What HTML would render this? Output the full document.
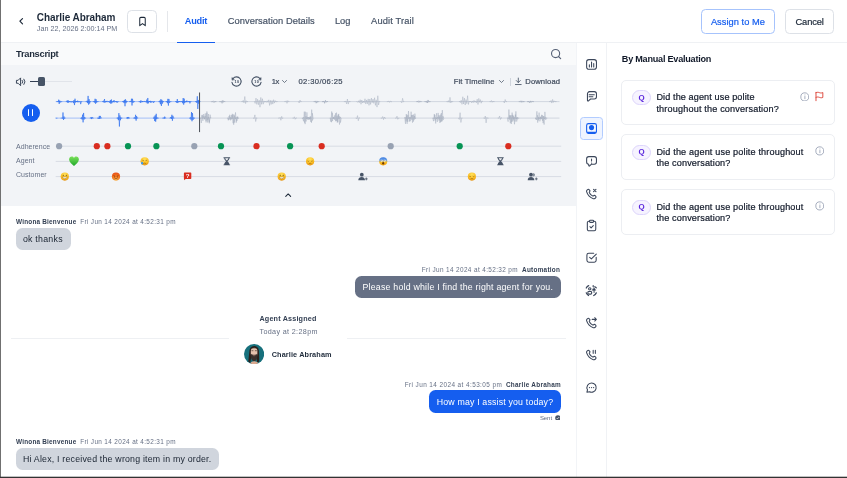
<!DOCTYPE html>
<html lang="en"><head><meta charset="utf-8"><title>Audit – Charlie Abraham</title>
<style>
html,body{margin:0;padding:0}
body{width:847px;height:478px;overflow:hidden;position:relative;background:#fff;font-family:'Liberation Sans', sans-serif;}
.abs{position:absolute}
.t{position:absolute;white-space:pre;line-height:normal}
#frame-l{position:absolute;left:0;top:0;width:1px;height:478px;background:#707070;z-index:9}
#frame-b{position:absolute;left:0;top:476px;width:847px;height:2px;background:linear-gradient(to bottom,rgba(50,50,50,0.3) 0,rgba(50,50,50,0.3) 50%,#333 50%,#333 100%);z-index:9}
header{position:absolute;left:0;top:0;width:847px;height:42px;border-bottom:1px solid #EFF1F4;background:#fff}
.btn{position:absolute;box-sizing:border-box;border-radius:4.5px;background:#fff}
#transcript{position:absolute;left:0;top:43px;width:576.4px;height:435px;overflow:hidden}
#thead{position:absolute;left:0;top:0;width:100%;height:22.2px;background:#F9FAFB}
#player{position:absolute;left:0;top:22.2px;width:100%;height:140.6px;background:#F2F4F7}
#chat{position:absolute;left:0;top:162.8px;width:100%;height:273px;background:#fff}
.bub{position:absolute;box-sizing:border-box;border-radius:6.5px}
#side{position:absolute;left:576.4px;top:43px;width:30.6px;height:435px;border-right:1px solid #F0F2F5;border-left:1px solid #F2F4F7;box-sizing:border-box;background:#fff}
.card{position:absolute;left:621.4px;width:213.5px;height:45.8px;box-sizing:border-box;border:1px solid #ECEEF2;border-radius:5px;background:#fff}
.qb{position:absolute;left:632px;width:19.2px;height:15.4px;box-sizing:border-box;border:1px solid #DDD5FC;border-radius:8px;background:#F6F3FF}
</style></head>
<body>
<div id="frame-l"></div><div id="frame-b"></div>
<header>
<svg class="abs" style="left:17.00px;top:17.30px" width="8.4" height="8.4" viewBox="0 0 24 24" fill="none" stroke="#1D2939" stroke-width="3.4" stroke-linecap="round" stroke-linejoin="round" ><path d="M15.750 4.500L8.250 12l7.500 7.500"/></svg>
<span class="t" style="left:36.80px;top:11.55px;font-size:10.0px;font-weight:700;color:#1D2939;letter-spacing:-0.077px;">Charlie Abraham</span>
<span class="t" style="left:36.80px;top:23.78px;font-size:7.2px;font-weight:400;color:#667085;letter-spacing:0.003px;">Jan 22, 2026 2:00:14 PM</span>
<div class="btn" style="left:127.4px;top:10px;width:29.8px;height:22.8px;border:1px solid #DDE1E7"></div>
<svg class="abs" style="left:136.90px;top:16.10px" width="11" height="11" viewBox="0 0 24 24" fill="none" stroke="#1D2939" stroke-width="2.2" stroke-linecap="round" stroke-linejoin="round" ><path d="M6 5.500A2.500 2.500 0 0 1 8.500 3h7A2.500 2.500 0 0 1 18 5.500V21l-6-4.500L6 21z"/></svg>
<div class="abs" style="left:167.2px;top:11px;width:1px;height:20.5px;background:#e5e7eb"></div>
<nav>
<span class="t" style="left:184.80px;top:15.67px;font-size:9.2px;font-weight:700;color:#155EEF;letter-spacing:-0.237px;">Audit</span>
<span class="t" style="left:227.70px;top:15.58px;font-size:9.3px;font-weight:400;color:#475467;letter-spacing:0.066px;-webkit-text-stroke:0.2px currentColor;">Conversation Details</span>
<span class="t" style="left:335.00px;top:15.58px;font-size:9.3px;font-weight:400;color:#475467;letter-spacing:-0.072px;-webkit-text-stroke:0.2px currentColor;">Log</span>
<span class="t" style="left:371.10px;top:15.58px;font-size:9.3px;font-weight:400;color:#475467;letter-spacing:0.141px;-webkit-text-stroke:0.2px currentColor;">Audit Trail</span>
<div class="abs" style="left:177px;top:41.5px;width:38px;height:1.8px;background:#155EEF;z-index:2"></div>
</nav>
<div class="btn" style="left:700.8px;top:9px;width:74.5px;height:24.7px;border:1px solid #A6C3FC"></div>
<span class="t" style="left:710.90px;top:16.58px;font-size:9.3px;font-weight:400;color:#155EEF;letter-spacing:0.021px;-webkit-text-stroke:0.2px currentColor;">Assign to Me</span>
<div class="btn" style="left:785.1px;top:9px;width:49.3px;height:24.7px;border:1px solid #DDE1E7"></div>
<span class="t" style="left:795.50px;top:16.58px;font-size:9.3px;font-weight:400;color:#1D2939;letter-spacing:-0.109px;-webkit-text-stroke:0.2px currentColor;">Cancel</span>
</header>

<section id="transcript">
<div id="thead"></div>
<div id="player"></div>
<div id="chat"></div>
<div class="abs" style="left:0;top:-43px;width:577px;height:478px">
<span class="t" style="left:16.00px;top:49.18px;font-size:9.3px;font-weight:700;color:#1D2939;letter-spacing:-0.255px;">Transcript</span>
<svg class="abs" style="left:549.60px;top:48.40px" width="12.2" height="12.2" viewBox="0 0 24 24" fill="none" stroke="#566176" stroke-width="2.2" stroke-linecap="round" stroke-linejoin="round" ><circle cx="11" cy="11" r="8"/><path d="M21 21l-4.300-4.300"/></svg>
<!-- player controls -->
<svg class="abs" style="left:15.10px;top:75.90px" width="11.6" height="11.6" viewBox="0 0 24 24" fill="none" stroke="#344054" stroke-width="2" stroke-linecap="round" stroke-linejoin="round" ><path d="M11 4.500L6.500 9H3v6h3.500L11 19.500z"/><path d="M15 9a4.500 4.500 0 0 1 0 6M18.500 6.500a8.500 8.500 0 0 1 0 11"/></svg>
<div class="abs" style="left:30px;top:81px;width:42px;height:1px;background:#e1e4ea"></div>
<div class="abs" style="left:30px;top:80.7px;width:9px;height:1.6px;background:#344054"></div>
<div class="abs" style="left:38.4px;top:77.3px;width:6.2px;height:8.6px;border-radius:1.6px;background:#475467"></div>
<svg class="abs" style="left:230.35px;top:75.20px" width="13" height="13" viewBox="0 0 24 24" fill="none" stroke="#475467" stroke-width="2" stroke-linecap="round" stroke-linejoin="round" ><path d="M5.490 6.540A8.500 8.500 0 1 1 3.630 13.480"/><path d="M3.700 9l-.2-4.200 4 3.200z" fill="#475467" stroke-width="1"/></svg>
<svg class="abs" style="left:250.20px;top:75.20px" width="13" height="13" viewBox="0 0 24 24" fill="none" stroke="#475467" stroke-width="2" stroke-linecap="round" stroke-linejoin="round" ><path d="M18.510 6.540A8.500 8.500 0 1 0 20.370 13.480"/><path d="M20.300 9l.2-4.200-4 3.200z" fill="#475467" stroke-width="1"/></svg>
<span class="t" style="left:234.50px;top:79.85px;font-size:3.7px;font-weight:700;color:#344054;letter-spacing:0.495px;">10</span>
<span class="t" style="left:254.30px;top:79.85px;font-size:3.7px;font-weight:700;color:#344054;letter-spacing:0.495px;">10</span>
<span class="t" style="left:271.80px;top:77.22px;font-size:7.6px;font-weight:400;color:#3f4a5c;letter-spacing:-0.566px;-webkit-text-stroke:0.2px currentColor;">1x</span>
<svg class="abs" style="left:280.90px;top:78.10px" width="7" height="7" viewBox="0 0 24 24" fill="none" stroke="#475467" stroke-width="2.6" stroke-linecap="round" stroke-linejoin="round" ><path d="M5 8.500l7 7 7-7"/></svg>
<span class="t" style="left:298.40px;top:77.22px;font-size:7.6px;font-weight:400;color:#3f4a5c;letter-spacing:0.398px;-webkit-text-stroke:0.2px currentColor;">02:30/06:25</span>
<span class="t" style="left:453.70px;top:77.22px;font-size:7.6px;font-weight:400;color:#3f4a5c;letter-spacing:0.173px;-webkit-text-stroke:0.2px currentColor;">Fit Timeline</span>
<svg class="abs" style="left:498.10px;top:78.10px" width="7" height="7" viewBox="0 0 24 24" fill="none" stroke="#475467" stroke-width="2.6" stroke-linecap="round" stroke-linejoin="round" ><path d="M5 8.500l7 7 7-7"/></svg>
<div class="abs" style="left:510.2px;top:77.5px;width:1px;height:8.2px;background:#D0D5DD"></div>
<svg class="abs" style="left:514.40px;top:77.20px" width="8.6" height="8.6" viewBox="0 0 24 24" fill="none" stroke="#475467" stroke-width="2.4" stroke-linecap="round" stroke-linejoin="round" ><path d="M12 3v12M6.500 10L12 15.500 17.500 10M4 21h16"/></svg>
<span class="t" style="left:525.30px;top:77.22px;font-size:7.6px;font-weight:400;color:#3f4a5c;letter-spacing:0.127px;-webkit-text-stroke:0.2px currentColor;">Download</span>
<div class="abs" style="left:21.5px;top:103.6px;width:18px;height:18px;border-radius:50%;background:#155EEF"></div>
<div class="abs" style="left:27.5px;top:108.9px;width:1.9px;height:7.4px;border-radius:1px;background:#fff"></div>
<div class="abs" style="left:31.6px;top:108.9px;width:1.9px;height:7.4px;border-radius:1px;background:#fff"></div>
<svg class="abs" style="left:0;top:0" width="577" height="206" viewBox="0 0 577 206">
<path d="M55.7 101.6H199.5M55.7 118.1H199.5" stroke="#6f9bf7" stroke-width="0.6"/>
<path d="M199.5 101.6H559.5M199.5 118.1H559.5" stroke="#cdd2dc" stroke-width="0.9"/>
<path d="M56.40 101.60L56.70 101.60L57.20 101.71L57.70 101.15L58.20 102.12L58.70 99.66L59.20 103.95L59.70 100.59L60.20 102.54L60.70 101.40L61.20 101.76L61.70 101.60L62.20 101.60M65.80 101.60L66.10 101.60L66.60 101.80L67.10 100.56L67.60 102.65L68.10 100.21L68.60 102.65L69.10 101.18L69.60 101.65L70.10 101.60M69.30 101.60L69.60 101.60L70.10 101.85L70.60 101.25L71.10 102.47L71.60 101.53L72.10 101.60M71.70 101.60L72.00 101.60L72.50 101.71L73.00 101.22L73.50 103.11L74.00 100.03L74.50 105.09L75.00 98.71L75.50 102.49L76.00 101.08L76.50 101.71L77.00 101.60L77.50 101.60M76.30 101.60L76.60 101.60L77.10 101.89L77.60 100.64L78.10 102.31L78.60 101.43L79.10 101.60M78.90 101.60L79.20 101.60L79.70 101.79L80.20 101.19L80.70 104.15L81.20 101.48L81.70 101.77L82.20 101.60M85.80 101.60L86.10 101.59L86.60 102.14L87.10 100.71L87.60 103.14L88.10 95.90L88.60 104.63L89.10 99.16L89.60 103.57L90.10 101.29L90.60 101.81L91.10 101.60M92.80 101.60L93.10 101.60L93.60 101.81L94.10 101.10L94.60 102.62L95.10 98.78L95.60 103.78L96.10 99.27L96.60 102.65L97.10 101.19L97.60 101.76L98.10 101.59L98.60 101.60M102.20 101.60L102.50 101.59L103.00 101.81L103.50 100.73L104.00 102.57L104.50 99.02L105.00 102.67L105.50 101.16L106.00 101.67L106.50 101.60M105.70 101.60L106.00 101.60L106.50 101.73L107.00 100.81L107.50 101.90L108.00 101.51L108.50 101.60M108.10 101.60L108.40 101.60L108.90 101.71L109.40 101.33L109.90 103.03L110.40 100.14L110.90 103.84L111.40 99.48L111.90 103.19L112.40 101.33L112.90 101.78L113.40 101.60L113.90 101.60M112.70 101.60L113.00 101.59L113.50 101.93L114.00 100.02L114.50 102.27L115.00 101.46L115.50 101.60M115.30 101.60L115.60 101.60L116.10 101.99L116.60 101.12L117.10 102.84L117.60 101.49L118.10 101.71L118.60 101.60M122.20 101.60L122.50 101.60L123.00 101.95L123.50 100.84L124.00 103.09L124.50 99.86L125.00 106.24L125.50 99.32L126.00 103.19L126.50 100.79L127.00 101.87L127.50 101.60M129.20 101.60L129.50 101.60L130.00 101.80L130.50 101.14L131.00 102.11L131.50 98.72L132.00 105.47L132.50 98.79L133.00 102.91L133.50 101.28L134.00 101.75L134.50 101.60L135.00 101.60M138.60 101.60L138.90 101.59L139.40 101.72L139.90 101.21L140.40 102.79L140.90 100.33L141.40 102.32L141.90 101.46L142.40 101.62L142.90 101.60M142.10 101.60L142.40 101.60L142.90 101.69L143.40 101.06L143.90 101.90L144.40 101.46L144.90 101.60M144.50 101.60L144.80 101.59L145.30 101.72L145.80 101.25L146.30 102.46L146.80 99.56L147.30 103.47L147.80 97.98L148.30 103.39L148.80 101.13L149.30 101.79L149.80 101.60L150.30 101.60M149.10 101.60L149.40 101.60L149.90 101.79L150.40 100.84L150.90 102.92L151.40 101.50L151.90 101.60M151.70 101.60L152.00 101.60L152.50 102.01L153.00 101.30L153.50 102.83L154.00 101.42L154.50 101.68L155.00 101.60M158.60 101.60L158.90 101.59L159.40 102.20L159.90 100.58L160.40 104.20L160.90 99.15L161.40 105.92L161.90 99.89L162.40 103.61L162.90 101.08L163.40 101.90L163.90 101.60M165.60 101.60L165.90 101.60L166.40 101.72L166.90 101.07L167.40 103.18L167.90 98.85L168.40 105.58L168.90 98.94L169.40 102.84L169.90 101.34L170.40 101.77L170.90 101.60L171.40 101.60M175.00 101.60L175.30 101.60L175.80 101.71L176.30 101.07L176.80 102.88L177.30 99.05L177.80 103.07L178.30 101.36L178.80 101.68L179.30 101.60M178.50 101.60L178.80 101.60L179.30 101.84L179.80 101.06L180.30 102.00L180.80 101.53L181.30 101.60M180.90 101.60L181.20 101.60L181.70 101.73L182.20 101.03L182.70 103.24L183.20 98.01L183.70 104.67L184.20 98.66L184.70 103.08L185.20 101.32L185.70 101.83L186.20 101.59L186.70 101.60M185.50 101.60L185.80 101.59L186.30 101.91L186.80 100.58L187.30 102.18L187.80 101.38L188.30 101.60M188.10 101.60L188.40 101.60L188.90 101.96L189.40 101.12L189.90 103.36L190.40 101.45L190.90 101.85L191.40 101.60M195.00 101.60L195.30 101.59L195.80 101.83L196.30 101.19L196.80 102.87L197.30 96.29L197.80 108.92L198.30 99.94L198.80 103.72L199.30 100.77L199.80 101.86L200.30 101.60M60.70 118.10L61.00 118.10L61.50 118.25L62.00 117.68L62.50 118.59L63.00 112.47L63.50 119.97L64.00 116.48L64.50 118.55L65.00 117.89L65.50 118.10M80.30 118.10L80.60 118.09L81.10 118.64L81.60 117.48L82.10 119.54L82.60 114.60L83.10 122.36L83.60 112.95L84.10 119.56L84.60 117.26L85.10 118.32L85.60 118.09L86.10 118.10M89.80 118.10L90.10 118.10L90.60 118.16L91.10 117.20L91.60 119.07L92.10 116.99L92.60 118.27L93.10 118.01L93.60 118.10M97.00 118.10L97.30 118.09L97.80 118.25L98.30 117.74L98.80 118.97L99.30 115.92L99.80 118.91L100.30 115.90L100.80 118.28L101.30 117.88L101.80 118.10M116.60 118.10L116.90 118.09L117.40 118.50L117.90 117.36L118.40 120.17L118.90 113.14L119.40 126.53L119.90 115.42L120.40 120.28L120.90 117.44L121.40 118.37L121.90 118.09L122.40 118.10M126.10 118.10L126.40 118.10L126.90 118.17L127.40 117.00L127.90 119.07L128.40 116.96L128.90 118.23L129.40 118.01L129.90 118.10M133.30 118.10L133.60 118.09L134.10 118.28L134.60 117.44L135.10 119.08L135.60 114.81L136.10 120.64L136.60 116.12L137.10 118.53L137.60 117.73L138.10 118.10M152.90 118.10L153.20 118.09L153.70 118.50L154.20 116.59L154.70 121.07L155.20 115.30L155.70 121.69L156.20 113.80L156.70 119.22L157.20 117.45L157.70 118.30L158.20 118.09L158.70 118.10M162.40 118.10L162.70 118.09L163.20 118.20L163.70 117.59L164.20 118.90L164.70 116.61L165.20 118.17L165.70 117.97L166.20 118.10M169.60 118.10L169.90 118.09L170.40 118.20L170.90 116.96L171.40 118.92L171.90 114.77L172.40 120.75L172.90 115.82L173.40 118.28L173.90 117.89L174.40 118.10M189.20 118.10L189.50 118.09L190.00 118.40L190.50 117.49L191.00 119.69L191.50 112.09L192.00 121.26L192.50 113.15L193.00 119.98L193.50 117.62L194.00 118.40L194.50 118.09L195.00 118.10M55.60 118.10L55.90 118.10L56.40 118.28L56.90 117.94L57.40 118.10" stroke="#155EEF" stroke-width="0.55" fill="none" stroke-linejoin="round"/>
<path d="M210.80 101.60L211.10 101.60L211.90 101.78L212.70 101.30L213.50 102.38L214.30 101.33L215.10 101.75L215.90 101.60M219.40 101.60L219.70 101.60L220.50 101.68L221.30 101.28L222.10 103.46L222.90 100.33L223.70 101.94L224.50 101.54L225.30 101.60M211.60 101.60L211.90 101.60L212.70 101.66L213.50 100.87L214.30 102.55L215.10 101.41L215.90 101.66L216.70 101.60M219.30 101.60L219.60 101.60L220.40 101.67L221.20 101.03L222.00 102.59L222.80 100.62L223.60 102.24L224.40 101.50L225.20 101.60M241.30 101.60L241.60 101.60L242.40 101.87L243.20 100.34L244.00 102.86L244.80 96.51L245.60 103.59L246.40 100.72L247.20 101.79L248.00 101.60M254.10 101.60L254.40 101.45L255.20 103.41L256.00 98.13L256.80 104.35L257.60 99.25L258.40 104.71L259.20 100.14L260.00 107.19L260.80 97.46L261.60 104.31L262.40 98.71L263.20 104.20L264.00 100.89L264.80 102.30L265.60 101.18L266.40 102.32L267.20 100.73L268.00 102.42L268.80 99.81L269.60 105.45L270.40 100.35L271.20 104.42L272.00 100.47L272.80 104.10L273.60 99.70L274.40 103.10L275.20 100.57L276.00 102.13L276.80 101.37L277.60 101.60M284.30 101.60L284.60 101.60L285.40 101.78L286.20 100.77L287.00 103.33L287.80 100.55L288.60 101.72L289.40 101.60M298.10 101.60L298.40 101.59L299.20 102.95L300.00 100.09L300.80 101.91L301.60 101.60M313.40 101.60L313.70 101.60L314.50 101.66L315.30 100.85L316.10 103.26L316.90 101.00L317.70 101.74L318.50 101.60M322.00 101.60L322.30 101.60L323.10 101.68L323.90 101.23L324.70 102.79L325.50 100.31L326.30 102.28L327.10 101.45L327.90 101.60M314.20 101.60L314.50 101.60L315.30 101.77L316.10 101.27L316.90 103.02L317.70 101.23L318.50 101.69L319.30 101.60M321.90 101.60L322.20 101.60L323.00 101.71L323.80 101.25L324.60 103.45L325.40 100.50L326.20 101.96L327.00 101.49L327.80 101.60M343.90 101.60L344.20 101.60L345.00 101.71L345.80 101.17L346.60 103.87L347.40 98.99L348.20 104.11L349.00 101.07L349.80 101.76L350.60 101.60M356.70 101.60L357.00 101.53L357.80 102.44L358.60 100.75L359.40 102.65L360.20 99.68L361.00 104.24L361.80 100.03L362.60 102.98L363.40 101.06L364.20 102.79L365.00 98.77L365.80 104.04L366.60 99.91L367.40 103.81L368.20 98.87L369.00 105.36L369.80 99.02L370.60 104.41L371.40 98.12L372.20 102.70L373.00 99.08L373.80 103.39L374.60 97.73L375.40 105.37L376.20 99.77L377.00 107.14L377.80 95.75L378.60 104.92L379.40 101.30L380.20 101.60M386.90 101.60L387.20 101.60L388.00 101.68L388.80 101.04L389.60 102.36L390.40 101.12L391.20 101.70L392.00 101.60M400.70 101.60L401.00 101.59L401.80 102.83L402.60 98.31L403.40 101.81L404.20 101.60M416.00 101.60L416.30 101.60L417.10 101.71L417.90 101.16L418.70 102.47L419.50 101.32L420.30 101.68L421.10 101.60M424.60 101.60L424.90 101.60L425.70 101.68L426.50 101.24L427.30 102.98L428.10 100.27L428.90 101.92L429.70 101.52L430.50 101.60M416.80 101.60L417.10 101.60L417.90 101.68L418.70 100.67L419.50 102.14L420.30 101.45L421.10 101.63L421.90 101.60M424.50 101.60L424.80 101.60L425.60 101.80L426.40 100.99L427.20 103.02L428.00 99.92L428.80 102.30L429.60 101.51L430.40 101.60M446.50 101.60L446.80 101.60L447.60 101.94L448.40 100.60L449.20 102.42L450.00 97.35L450.80 102.93L451.60 100.97L452.40 101.77L453.20 101.60M459.30 101.60L459.60 101.00L460.40 102.57L461.20 100.26L462.00 104.33L462.80 96.73L463.60 104.03L464.40 98.08L465.20 105.03L466.00 99.52L466.80 103.74L467.60 95.70L468.40 104.45L469.20 101.15L470.00 102.01L470.80 101.13L471.60 102.79L472.40 100.94L473.20 102.64L474.00 100.32L474.80 102.28L475.60 100.92L476.40 102.83L477.20 99.20L478.00 104.50L478.80 98.40L479.60 102.26L480.40 99.62L481.20 103.22L482.00 100.83L482.80 101.60M489.50 101.60L489.80 101.60L490.60 101.76L491.40 100.49L492.20 102.30L493.00 101.12L493.80 101.73L494.60 101.60M503.30 101.60L503.60 101.59L504.40 102.92L505.20 99.48L506.00 101.77L506.80 101.60M518.60 101.60L518.90 101.60L519.70 101.71L520.50 100.78L521.30 102.29L522.10 100.87L522.90 101.74L523.70 101.60L524.50 101.60M527.20 101.60L527.50 101.60L528.30 101.76L529.10 101.31L529.90 102.53L530.70 100.86L531.50 102.26L532.30 101.54L533.10 101.60L533.90 101.60M519.40 101.60L519.70 101.60L520.50 101.69L521.30 101.00L522.10 102.34L522.90 101.34L523.70 101.69L524.50 101.60M527.10 101.60L527.40 101.60L528.20 101.71L529.00 101.34L529.80 103.01L530.60 100.95L531.40 101.83L532.20 101.42L533.00 101.60L533.80 101.60M549.10 101.60L549.40 101.60L550.20 101.79L551.00 100.45L551.80 103.08L552.60 99.41L553.40 102.41L554.20 100.80L555.00 101.85L555.80 101.59L556.60 101.60M200.20 118.10L200.50 117.86L201.30 123.03L202.10 114.81L202.90 118.66L203.70 116.23L204.50 119.30L205.30 113.37L206.10 120.87L206.90 111.40L207.70 120.21L208.50 114.06L209.30 122.26L210.10 117.38L210.90 118.10M227.80 118.10L228.10 117.93L228.90 119.82L229.70 114.78L230.50 120.30L231.30 115.07L232.10 119.13L232.90 114.66L233.70 124.74L234.50 115.56L235.30 119.15L236.10 117.22L236.90 121.00L237.70 116.62L238.50 118.10M200.20 118.10L200.50 118.01L201.30 118.58L202.10 115.28L202.90 120.80L203.70 114.09L204.50 119.13L205.30 115.91L206.10 122.43L206.90 112.86L207.70 122.53L208.50 116.85L209.30 123.32L210.10 114.64L210.90 118.10M227.20 118.10L227.50 117.76L228.30 120.33L229.10 116.05L229.90 119.40L230.70 117.33L231.50 119.42L232.30 113.82L233.10 123.19L233.90 114.40L234.70 122.64L235.50 112.41L236.30 122.62L237.10 116.72L237.90 119.09L238.70 118.10M253.00 118.10L253.30 118.09L254.10 118.70L254.90 114.87L255.70 121.52L256.50 117.80L257.30 118.10M278.20 118.10L278.50 118.10L279.30 118.26L280.10 117.32L280.90 120.31L281.70 116.35L282.50 118.48L283.30 118.10M292.50 118.10L292.80 118.10L293.60 118.29L294.40 116.79L295.20 119.32L296.00 117.85L296.80 118.10M302.40 118.10L302.70 117.96L303.50 121.21L304.30 111.64L305.10 124.13L305.90 116.26L306.70 118.89L307.50 117.23L308.30 119.65L309.10 117.23L309.90 119.24L310.70 116.56L311.50 122.73L312.30 113.21L313.10 118.10M330.40 118.10L330.70 117.95L331.50 122.23L332.30 112.83L333.10 119.06L333.90 117.51L334.70 119.82L335.50 113.31L336.30 121.07L337.10 115.84L337.90 122.20L338.70 113.88L339.50 124.57L340.30 117.07L341.10 118.10M301.80 118.10L302.10 117.85L302.90 118.48L303.70 117.19L304.50 122.68L305.30 111.72L306.10 121.46L306.90 112.33L307.70 119.53L308.50 117.04L309.30 119.52L310.10 116.48L310.90 121.99L311.70 109.60L312.50 120.49L313.30 118.10M329.80 118.10L330.10 117.80L330.90 121.79L331.70 111.46L332.50 121.09L333.30 116.92L334.10 118.63L334.90 115.31L335.70 121.26L336.50 112.65L337.30 122.55L338.10 114.64L338.90 119.10L339.70 116.29L340.50 122.57L341.30 118.10M355.60 118.10L355.90 118.09L356.70 118.67L357.50 115.61L358.30 120.76L359.10 117.67L359.90 118.10M380.80 118.10L381.10 118.10L381.90 118.31L382.70 116.48L383.50 119.66L384.30 117.01L385.10 118.39L385.90 118.10M395.10 118.10L395.40 118.10L396.20 118.41L397.00 116.14L397.80 119.34L398.60 117.92L399.40 118.10M405.00 118.10L405.30 117.28L406.10 121.41L406.90 115.38L407.70 121.74L408.50 111.04L409.30 121.68L410.10 117.20L410.90 118.62L411.70 115.10L412.50 122.64L413.30 114.48L414.10 119.74L414.90 113.64L415.70 118.10M433.00 118.10L433.30 117.84L434.10 118.89L434.90 114.92L435.70 123.47L436.50 113.31L437.30 121.94L438.10 112.92L438.90 120.52L439.70 116.44L440.50 122.10L441.30 113.02L442.10 121.30L442.90 116.14L443.70 118.10M404.40 118.10L404.70 117.54L405.50 123.84L406.30 114.04L407.10 123.85L407.90 114.79L408.70 118.86L409.50 117.42L410.30 121.24L411.10 111.71L411.90 119.95L412.70 114.94L413.50 121.54L414.30 115.96L415.10 119.04L415.90 118.10M432.40 118.10L432.70 117.96L433.50 121.15L434.30 113.97L435.10 120.64L435.90 117.34L436.70 118.86L437.50 117.29L438.30 118.76L439.10 115.04L439.90 122.94L440.70 114.58L441.50 121.56L442.30 110.12L443.10 120.08L443.90 118.10M458.20 118.10L458.50 118.09L459.30 119.49L460.10 112.68L460.90 122.47L461.70 117.88L462.50 118.10M483.40 118.10L483.70 118.10L484.50 118.54L485.30 116.00L486.10 122.88L486.90 117.34L487.70 118.33L488.50 118.10M497.70 118.10L498.00 118.10L498.80 118.27L499.60 115.97L500.40 119.52L501.20 117.69L502.00 118.10M507.60 118.10L507.90 117.82L508.70 118.59L509.50 115.33L510.30 123.20L511.10 115.16L511.90 121.94L512.70 114.82L513.50 119.43L514.30 117.16L515.10 121.62L515.90 111.36L516.70 121.55L517.50 117.26L518.30 118.10M535.60 118.10L535.90 117.85L536.70 119.77L537.50 115.29L538.30 120.46L539.10 112.62L539.90 121.33L540.70 116.64L541.50 118.89L542.30 115.15L543.10 123.10L543.90 116.23L544.70 118.90L545.50 117.53L546.30 118.10M507.00 118.10L507.30 117.82L508.10 121.67L508.90 109.56L509.70 119.63L510.50 115.52L511.30 123.95L512.10 112.59L512.90 121.28L513.70 115.74L514.50 124.27L515.30 114.55L516.10 119.05L516.90 117.48L517.70 119.26L518.50 117.94L519.30 118.10M535.00 118.10L535.30 117.98L536.10 119.68L536.90 111.32L537.70 122.62L538.50 117.36L539.30 118.83L540.10 117.10L540.90 119.27L541.70 114.81L542.50 120.73L543.30 115.97L544.10 124.59L544.90 111.86L545.70 119.90L546.50 117.77L547.30 118.10" stroke="#9aa4b5" stroke-width="0.4" fill="none" stroke-linejoin="round"/>
<rect x="199.05" y="92.5" width="1" height="39.6" fill="#4a4f58"/>
</svg>
<span class="t" style="left:16.00px;top:142.86px;font-size:7px;font-weight:400;color:#667085;letter-spacing:0.038px;">Adherence</span>
<span class="t" style="left:16.00px;top:156.86px;font-size:7px;font-weight:400;color:#667085;letter-spacing:0.041px;">Agent</span>
<span class="t" style="left:16.00px;top:171.06px;font-size:7px;font-weight:400;color:#667085;letter-spacing:0.045px;">Customer</span>
<svg class="abs" style="left:0;top:0" width="577" height="206" viewBox="0 0 577 206">
<defs>
<radialGradient id="gy" cx="0.5" cy="0.25" r="0.85"><stop offset="0" stop-color="#ffe25e"/><stop offset="0.55" stop-color="#fbbf24"/><stop offset="1" stop-color="#df850c"/></radialGradient>
<radialGradient id="go" cx="0.5" cy="0.9" r="0.9"><stop offset="0" stop-color="#fcb84a"/><stop offset="0.6" stop-color="#f2701c"/><stop offset="1" stop-color="#e6501a"/></radialGradient>
<linearGradient id="gs" x1="0" y1="0" x2="0" y2="1"><stop offset="0" stop-color="#3b7be0"/><stop offset="0.35" stop-color="#6aa0e8"/><stop offset="0.6" stop-color="#fbbf24"/><stop offset="1" stop-color="#f0a010"/></linearGradient>
<linearGradient id="gh" x1="0" y1="0" x2="0" y2="1"><stop offset="0" stop-color="#7ae05a"/><stop offset="1" stop-color="#1fa82a"/></linearGradient>
</defs>
<path d="M55.7 146.2H561.2M55.7 161.4H561.2M55.7 176.6H561.2" stroke="#d8dce4" stroke-width="1"/>
<circle cx="59.1" cy="146.2" r="3.1" fill="#98A2B3"/><circle cx="96.8" cy="146.2" r="3.1" fill="#D92D20"/><circle cx="107.4" cy="146.2" r="3.1" fill="#D92D20"/><circle cx="128" cy="146.2" r="3.1" fill="#079455"/><circle cx="156.4" cy="146.2" r="3.1" fill="#079455"/><circle cx="194.3" cy="146.2" r="3.1" fill="#98A2B3"/><circle cx="221" cy="146.2" r="3.1" fill="#079455"/><circle cx="256.5" cy="146.2" r="3.1" fill="#D92D20"/><circle cx="290.1" cy="146.2" r="3.1" fill="#079455"/><circle cx="321.7" cy="146.2" r="3.1" fill="#D92D20"/><circle cx="390.7" cy="146.2" r="3.1" fill="#98A2B3"/><circle cx="459.7" cy="146.2" r="3.1" fill="#079455"/><circle cx="508.3" cy="146.2" r="3.1" fill="#D92D20"/>
<path d="M74 165.9C71.8 164.20000000000002 69.1 161.9 69.1 159.4C69.1 157.70000000000002 70.4 156.60000000000002 71.7 156.60000000000002C72.7 156.60000000000002 73.5 157.10000000000002 74 157.9C74.5 157.10000000000002 75.3 156.60000000000002 76.3 156.60000000000002C77.6 156.60000000000002 78.9 157.70000000000002 78.9 159.4C78.9 161.9 76.2 164.20000000000002 74 165.9Z" fill="url(#gh)"/><circle cx="144.7" cy="161.3" r="4.1" fill="url(#gy)"/><path d="M143.2 163.60000000000002Q144.7 162.5 146.2 163.60000000000002" stroke="#7a4a0a" stroke-width="0.5" fill="none"/><path d="M142.29999999999998 160.20000000000002l1.6 .5M147.1 160.20000000000002l-1.6 .5" stroke="#7a4a0a" stroke-width="0.5"/><ellipse cx="142.1" cy="163.20000000000002" rx="1" ry="1.4" fill="#3b9cf0"/><path d="M223.5 157.3H230.10000000000002V158.20000000000002H229.4C229.4 159.9 228.0 160.60000000000002 227.5 161.3C228.0 162.0 229.4 162.70000000000002 229.4 164.4H230.10000000000002V165.3H223.5V164.4H224.20000000000002C224.20000000000002 162.70000000000002 225.60000000000002 162.0 226.10000000000002 161.3C225.60000000000002 160.60000000000002 224.20000000000002 159.9 224.20000000000002 158.20000000000002H223.5Z" fill="#475467"/><path d="M225.20000000000002 158.3H228.4C228.3 159.20000000000002 227.60000000000002 159.70000000000002 226.8 160.4C226.0 159.70000000000002 225.3 159.20000000000002 225.20000000000002 158.3Z" fill="#F2F4F7"/><circle cx="310.1" cy="161.3" r="4.1" fill="url(#gy)"/><path d="M308.8 163.60000000000002Q310.1 162.8 311.40000000000003 163.60000000000002" stroke="#7a4a0a" stroke-width="0.5" fill="none"/><path d="M307.5 160.9q.9 .9 1.8 0M310.90000000000003 160.9q.9 .9 1.8 0" stroke="#7a4a0a" stroke-width="0.5" fill="none"/><circle cx="383.2" cy="161.3" r="4.1" fill="url(#gs)"/><circle cx="381.7" cy="160.70000000000002" r="0.9" fill="#fff"/><circle cx="384.7" cy="160.70000000000002" r="0.9" fill="#fff"/><circle cx="381.7" cy="160.70000000000002" r="0.35" fill="#333"/><circle cx="384.7" cy="160.70000000000002" r="0.35" fill="#333"/><ellipse cx="383.2" cy="163.3" rx="1" ry="1.3" fill="#6b3a0a"/><path d="M497.09999999999997 157.3H503.7V158.20000000000002H503.0C503.0 159.9 501.59999999999997 160.60000000000002 501.09999999999997 161.3C501.59999999999997 162.0 503.0 162.70000000000002 503.0 164.4H503.7V165.3H497.09999999999997V164.4H497.79999999999995C497.79999999999995 162.70000000000002 499.2 162.0 499.7 161.3C499.2 160.60000000000002 497.79999999999995 159.9 497.79999999999995 158.20000000000002H497.09999999999997Z" fill="#475467"/><path d="M498.79999999999995 158.3H502.0C501.9 159.20000000000002 501.2 159.70000000000002 500.4 160.4C499.59999999999997 159.70000000000002 498.9 159.20000000000002 498.79999999999995 158.3Z" fill="#F2F4F7"/><circle cx="64.8" cy="176.6" r="4.1" fill="url(#gy)"/><path d="M62.199999999999996 176.9Q64.8 180.79999999999998 67.39999999999999 176.9Z" fill="#fff8e0" stroke="#8a5a10" stroke-width="0.4"/><circle cx="63.3" cy="175.2" r="0.55" fill="#5b3a0a"/><circle cx="66.3" cy="175.2" r="0.55" fill="#5b3a0a"/><circle cx="116" cy="176.6" r="4.1" fill="url(#go)"/><path d="M114.5 179.0Q116 177.9 117.5 179.0" stroke="#5b1a0a" stroke-width="0.5" fill="none"/><path d="M113.6 175.6l1.7 .9M118.4 175.6l-1.7 .9" stroke="#5b1a0a" stroke-width="0.55"/><circle cx="114.6" cy="177.1" r="0.45" fill="#5b1a0a"/><circle cx="117.4" cy="177.1" r="0.45" fill="#5b1a0a"/><path d="M184.6 172.6H190.6Q191.29999999999998 172.6 191.29999999999998 173.29999999999998V178.29999999999998Q191.29999999999998 178.99999999999997 190.6 178.99999999999997H185.7L184.1 180.2V178.99999999999997Q183.9 178.79999999999998 183.9 178.29999999999998V173.29999999999998Q183.9 172.6 184.6 172.6Z" fill="#D92D20"/><text x="187.6" y="177.99999999999997" font-size="6.2" font-weight="700" fill="#fff" text-anchor="middle" font-family="Liberation Sans, sans-serif">?</text><circle cx="281.7" cy="176.6" r="4.1" fill="url(#gy)"/><path d="M279.09999999999997 176.9Q281.7 180.79999999999998 284.3 176.9Z" fill="#fff8e0" stroke="#8a5a10" stroke-width="0.4"/><circle cx="280.2" cy="175.2" r="0.55" fill="#5b3a0a"/><circle cx="283.2" cy="175.2" r="0.55" fill="#5b3a0a"/><circle cx="361.8" cy="174.7" r="1.9" fill="#475467"/><path d="M358.3 180.29999999999998C358.3 178.0 359.8 177.1 361.8 177.1C363.4 177.1 364.7 177.79999999999998 365.09999999999997 180.29999999999998Z" fill="#475467"/><path d="M366.3 177.5v2.8M364.9 178.9h2.8" stroke="#475467" stroke-width="0.8"/><circle cx="471.9" cy="176.6" r="4.1" fill="url(#gy)"/><path d="M470.59999999999997 178.9Q471.9 178.1 473.2 178.9" stroke="#7a4a0a" stroke-width="0.5" fill="none"/><path d="M469.29999999999995 176.2q.9 .9 1.8 0M472.7 176.2q.9 .9 1.8 0" stroke="#7a4a0a" stroke-width="0.5" fill="none"/><circle cx="531.0" cy="174.7" r="1.9" fill="#475467"/><path d="M527.7 180.29999999999998C527.7 178.0 529.1 177.1 531.0 177.1C532.7 177.1 534.1 177.79999999999998 534.4 180.29999999999998Z" fill="#475467"/><path d="M533.4 172.9a1.9 1.9 0 0 1 0 3.6" fill="#475467"/><path d="M536.3 177.5v2.8M534.9 178.9h2.8" stroke="#475467" stroke-width="0.8"/>
</svg>
<svg class="abs" style="left:283.60px;top:191.20px" width="8.4" height="8.4" viewBox="0 0 24 24" fill="none" stroke="#1D2939" stroke-width="3" stroke-linecap="round" stroke-linejoin="round" ><path d="M5 15.500l7-7 7 7"/></svg>
<!-- chat -->
<span class="t" style="left:16.00px;top:217.91px;font-size:6.4px;font-weight:700;color:#344054;letter-spacing:0.205px;">Winona Bienvenue</span>
<span class="t" style="left:80.20px;top:217.91px;font-size:6.4px;font-weight:400;color:#667085;letter-spacing:0.360px;">Fri Jun 14 2024 at 4:52:31 pm</span>
<div class="bub" style="left:15.6px;top:227.9px;width:55.2px;height:22.2px;background:#D0D5DD"></div>
<span class="t" style="left:22.90px;top:234.24px;font-size:8.8px;font-weight:400;color:#182230;letter-spacing:0.249px;">ok thanks</span>
<span class="t" style="left:421.70px;top:266.31px;font-size:6.4px;font-weight:400;color:#667085;letter-spacing:0.380px;">Fri Jun 14 2024 at 4:52:32 pm</span>
<span class="t" style="left:522.00px;top:266.31px;font-size:6.4px;font-weight:700;color:#344054;letter-spacing:0.270px;">Automation</span>
<div class="bub" style="left:354.7px;top:276.1px;width:206.2px;height:22.3px;background:#667085"></div>
<span class="t" style="left:362.50px;top:282.44px;font-size:8.8px;font-weight:400;color:#ffffff;letter-spacing:0.207px;">Please hold while I find the right agent for you.</span>
<span class="t" style="left:259.50px;top:314.08px;font-size:7.2px;font-weight:700;color:#344054;letter-spacing:0.182px;">Agent Assigned</span>
<span class="t" style="left:259.50px;top:326.68px;font-size:7.2px;font-weight:400;color:#667085;letter-spacing:0.344px;">Today at 2:28pm</span>
<div class="abs" style="left:10.6px;top:338px;width:218.6px;height:1px;background:#EEF0F3"></div>
<div class="abs" style="left:347.3px;top:338px;width:218.4px;height:1px;background:#EEF0F3"></div>
<svg class="abs" style="left:243.9px;top:344.1px" width="20.2" height="20.2" viewBox="0 0 40 40">
<defs><clipPath id="av"><circle cx="20" cy="20" r="20"/></clipPath></defs>
<g clip-path="url(#av)"><rect width="40" height="40" fill="#17707c"/>
<path d="M12 40c1-4 3-6 8-6s8 2 10 6z" fill="#dba98f"/>
<path d="M11 12c1-6 5-8 9.500-8s8.500 3 9 9c.500 6 1 14 .500 22l-4 1-1-8H14l-1.500 9-4-2c1-8 1.500-16 2.500-23z" fill="#2a211d"/>
<path d="M13.500 14c0-5 3-6.500 6.500-6.500s6.500 1.500 6.500 6.500v6c0 4-3 7-6.500 7s-6.500-3-6.500-7z" fill="#e6c1ad"/>
<path d="M13.300 19.500c2 1.500 4 2 6.700 2s4.700-.500 6.700-2c.300 5-.700 9-2.200 11.500-1.500 2.200-3 2.800-4.500 2.800s-3-.600-4.500-2.800c-1.500-2.500-2.500-6.500-2.200-11.500z" fill="#3a2f2c"/>
<path d="M17.500 22.800c1.500.700 3.500.700 5 0" stroke="#c98f7a" stroke-width="1" fill="none"/>
<path d="M14.800 13.300h3.800M21.600 13.300h3.800" stroke="#3a2a22" stroke-width="1.300"/>
<path d="M15 9c1.500-1.800 3-2.300 5-2.300s4 .500 5.500 2.300c-2-.600-3.500-.800-5.500-.800s-3.500.200-5 .800z" fill="#2a211d"/>
</g></svg>
<span class="t" style="left:271.70px;top:349.99px;font-size:7.3px;font-weight:700;color:#1D2939;letter-spacing:0.125px;">Charlie Abraham</span>
<span class="t" style="left:404.70px;top:380.51px;font-size:6.4px;font-weight:400;color:#667085;letter-spacing:0.422px;">Fri Jun 14 2024 at 4:53:05 pm</span>
<span class="t" style="left:505.90px;top:380.51px;font-size:6.4px;font-weight:700;color:#344054;letter-spacing:0.280px;">Charlie Abraham</span>
<div class="bub" style="left:429.2px;top:390.4px;width:131.8px;height:22.4px;background:#155EEF"></div>
<span class="t" style="left:436.70px;top:396.64px;font-size:8.8px;font-weight:400;color:#ffffff;letter-spacing:0.168px;">How may I assist you today?</span>
<span class="t" style="left:539.90px;top:414.48px;font-size:6.1px;font-weight:400;color:#667085;letter-spacing:-0.112px;">Sent</span>
<svg class="abs" style="left:554.5px;top:414.7px" width="5.8" height="5.8" viewBox="0 0 24 24"><circle cx="12" cy="12" r="11.3" fill="#475467"/><path d="M6.500 12.500l3.500 3.500 7.500-7.500" stroke="#fff" stroke-width="3" fill="none"/></svg>
<span class="t" style="left:16.00px;top:437.71px;font-size:6.4px;font-weight:700;color:#344054;letter-spacing:0.205px;">Winona Bienvenue</span>
<span class="t" style="left:80.20px;top:437.71px;font-size:6.4px;font-weight:400;color:#667085;letter-spacing:0.360px;">Fri Jun 14 2024 at 4:52:31 pm</span>
<div class="bub" style="left:15.6px;top:447.5px;width:203.2px;height:22.4px;background:#D0D5DD"></div>
<span class="t" style="left:23.00px;top:453.64px;font-size:8.8px;font-weight:400;color:#182230;letter-spacing:0.201px;">Hi Alex, I received the wrong item in my order.</span>
</div>
</section>

<aside id="side"></aside>
<div class="abs" style="left:0;top:0;width:847px;height:478px"><svg class="abs" style="left:585.15px;top:57.85px" width="13.1" height="13.1" viewBox="0 0 24 24" fill="none" stroke="#3b465a" stroke-width="1.95" stroke-linecap="round" stroke-linejoin="round" ><rect x="3" y="3" width="18" height="17.500" rx="4.200"/><path d="M8 16.300v-3.800M12 16.300V7.200M16 16.300V10"/></svg><svg class="abs" style="left:585.15px;top:90.05px" width="13.1" height="13.1" viewBox="0 0 24 24" fill="none" stroke="#3b465a" stroke-width="1.95" stroke-linecap="round" stroke-linejoin="round" ><path d="M7 3h10a4 4 0 0 1 4 4v5.5a4 4 0 0 1-4 4h-6.800l-3.900 3.600c-.7.600-1.800.100-1.800-.800V7a4 4 0 0 1 4-4z"/><path d="M7.500 8.800h9.500M7.500 12.300h7"/></svg><div class="abs" style="left:580.1px;top:117.1px;width:22.6px;height:22.6px;box-sizing:border-box;border:1px solid #B2CCFF;background:#EFF4FF;border-radius:3.5px"></div><svg class="abs" style="left:585.15px;top:122.05px" width="13.1" height="13.1" viewBox="0 0 24 24" fill="none" stroke="#155EEF" stroke-width="1.95" stroke-linecap="round" stroke-linejoin="round" ><rect x="3" y="3" width="18" height="18" rx="3.400" fill="#F5F8FF" stroke="#155EEF" stroke-width="2"/><circle cx="12" cy="10.200" r="4.700" fill="#155EEF" stroke="none"/><path d="M3.500 17.800h17v.7a2.500 2.500 0 0 1-2.500 2.500H6a2.500 2.500 0 0 1-2.500-2.500z" fill="#155EEF" stroke="none"/></svg><svg class="abs" style="left:585.15px;top:154.65px" width="13.1" height="13.1" viewBox="0 0 24 24" fill="none" stroke="#3b465a" stroke-width="1.95" stroke-linecap="round" stroke-linejoin="round" ><path d="M7 3h10a4 4 0 0 1 4 4v6a4 4 0 0 1-4 4h-5.500l-3 3c-.7.700-1.700.200-1.700-.700V17A4 4 0 0 1 3 13V7a4 4 0 0 1 4-4z"/><path d="M12 7.300v3.600" stroke-width="1.900"/><path d="M12 14.800v.01" stroke-width="2.200"/></svg><svg class="abs" style="left:585.15px;top:186.60px" width="13.1" height="13.1" viewBox="0 0 24 24" fill="none" stroke="#3b465a" stroke-width="1.95" stroke-linecap="round" stroke-linejoin="round" ><g transform="translate(0.14 1.88) scale(0.93)" stroke-width="2.1"><path d="M8.38 8.853a14.603 14.603 0 0 0 2.847 4.01 14.603 14.603 0 0 0 4.01 2.847c.124.06.187.09.265.112.28.082.625.023.862-.147.067-.048.124-.105.239-.219.35-.35.524-.524.7-.639a2 2 0 0 1 2.18 0c.176.115.35.29.7.64l.195.194c.532.532.798.798.942 1.084a2 2 0 0 1 0 1.806c-.144.285-.41.551-.942 1.083l-.157.158c-.53.53-.795.794-1.155.997-.4.224-1.020.386-1.478.384-.413-.001-.695-.081-1.260-.241a19.038 19.038 0 0 1-8.283-4.874A19.039 19.039 0 0 1 3.170 7.765c-.16-.564-.24-.846-.241-1.260-.002-.457.160-1.078.384-1.477.203-.36.468-.625.997-1.155l.158-.157c.532-.532.798-.798 1.083-.942a2 2 0 0 1 1.806 0c.285.144.551.41 1.083.942l.195.195c.35.35.524.524.639.7a2 2 0 0 1 0 2.180c-.115.176-.29.35-.64.700-.114.115-.171.172-.219.239-.17.237-.229.582-.147.862.023.078.053.140.112.265z"/></g><path d="M15.700 4.200l4.400 4.400M20.100 4.200l-4.400 4.400"/></svg><svg class="abs" style="left:585.15px;top:219.05px" width="13.1" height="13.1" viewBox="0 0 24 24" fill="none" stroke="#3b465a" stroke-width="1.95" stroke-linecap="round" stroke-linejoin="round" ><path d="M15.500 4.200H17a2.700 2.700 0 0 1 2.700 2.700v11.900a2.700 2.700 0 0 1-2.700 2.700H7a2.700 2.700 0 0 1-2.700-2.700V6.900A2.700 2.700 0 0 1 7 4.200h1.500"/><rect x="8.300" y="2.200" width="7.400" height="4" rx="1.500"/><path d="M9 14.200l2.200 2.200 4-4.200"/></svg><svg class="abs" style="left:585.15px;top:251.45px" width="13.1" height="13.1" viewBox="0 0 24 24" fill="none" stroke="#3b465a" stroke-width="1.95" stroke-linecap="round" stroke-linejoin="round" ><path d="M8.500 11.500l3.200 3 9-8.800"/><path d="M20.500 11.500V17a3.500 3.500 0 0 1-3.500 3.500H7A3.500 3.500 0 0 1 3.500 17V7.500A3.500 3.500 0 0 1 7 4h9"/></svg><svg class="abs" style="left:585.15px;top:283.55px" width="13.1" height="13.1" viewBox="0 0 24 24" fill="none" stroke="#3b465a" stroke-width="1.95" stroke-linecap="round" stroke-linejoin="round" ><path d="M2.300 7.400C3.300 5.300 4.700 3.900 6.800 3M2.300 16.200c1 2.300 2.200 3.800 4.200 4.900M16 21.100c2.200-1 3.600-2.500 4.700-4.800M18 5c1.200.500 2 1.100 2.700 2M15 3v1.600" stroke-width="2.300"/><circle cx="8.700" cy="8.900" r="2.200" stroke-width="1.900"/><rect x="5.300" y="13.700" width="6.900" height="4.800" rx="1.600" stroke-width="2"/><path d="M16.600 7l3 4.500h-6z" fill="#344054" stroke-width="1"/><path d="M16.600 11.500v4" stroke-width="1.800"/></svg><svg class="abs" style="left:585.15px;top:315.75px" width="13.1" height="13.1" viewBox="0 0 24 24" fill="none" stroke="#3b465a" stroke-width="1.95" stroke-linecap="round" stroke-linejoin="round" ><g transform="translate(0.14 1.88) scale(0.93)" stroke-width="2.1"><path d="M8.38 8.853a14.603 14.603 0 0 0 2.847 4.01 14.603 14.603 0 0 0 4.01 2.847c.124.06.187.09.265.112.28.082.625.023.862-.147.067-.048.124-.105.239-.219.35-.35.524-.524.7-.639a2 2 0 0 1 2.18 0c.176.115.35.29.7.64l.195.194c.532.532.798.798.942 1.084a2 2 0 0 1 0 1.806c-.144.285-.41.551-.942 1.083l-.157.158c-.53.53-.795.794-1.155.997-.4.224-1.020.386-1.478.384-.413-.001-.695-.081-1.260-.241a19.038 19.038 0 0 1-8.283-4.874A19.039 19.039 0 0 1 3.170 7.765c-.16-.564-.24-.846-.241-1.260-.002-.457.160-1.078.384-1.477.203-.36.468-.625.997-1.155l.158-.157c.532-.532.798-.798 1.083-.942a2 2 0 0 1 1.806 0c.285.144.551.41 1.083.942l.195.195c.35.35.524.524.639.7a2 2 0 0 1 0 2.180c-.115.176-.29.35-.64.700-.114.115-.171.172-.219.239-.17.237-.229.582-.147.862.023.078.053.140.112.265z"/></g><path d="M13.200 6.200h7.600M17.800 3.200l3 3-3 3"/></svg><svg class="abs" style="left:585.15px;top:348.15px" width="13.1" height="13.1" viewBox="0 0 24 24" fill="none" stroke="#3b465a" stroke-width="1.95" stroke-linecap="round" stroke-linejoin="round" ><g transform="translate(0.14 1.88) scale(0.93)" stroke-width="2.1"><path d="M8.38 8.853a14.603 14.603 0 0 0 2.847 4.01 14.603 14.603 0 0 0 4.01 2.847c.124.06.187.09.265.112.28.082.625.023.862-.147.067-.048.124-.105.239-.219.35-.35.524-.524.7-.639a2 2 0 0 1 2.18 0c.176.115.35.29.7.64l.195.194c.532.532.798.798.942 1.084a2 2 0 0 1 0 1.806c-.144.285-.41.551-.942 1.083l-.157.158c-.53.53-.795.794-1.155.997-.4.224-1.020.386-1.478.384-.413-.001-.695-.081-1.260-.241a19.038 19.038 0 0 1-8.283-4.874A19.039 19.039 0 0 1 3.170 7.765c-.16-.564-.24-.846-.241-1.260-.002-.457.160-1.078.384-1.477.203-.36.468-.625.997-1.155l.158-.157c.532-.532.798-.798 1.083-.942a2 2 0 0 1 1.806 0c.285.144.551.41 1.083.942l.195.195c.35.35.524.524.639.7a2 2 0 0 1 0 2.180c-.115.176-.29.35-.64.700-.114.115-.171.172-.219.239-.17.237-.229.582-.147.862.023.078.053.140.112.265z"/></g><path d="M15 4.300v5.500M19 4.300v5.500"/></svg><svg class="abs" style="left:585.15px;top:380.55px" width="13.1" height="13.1" viewBox="0 0 24 24" fill="none" stroke="#3b465a" stroke-width="1.95" stroke-linecap="round" stroke-linejoin="round" ><path d="M12 3.500a8.500 8.500 0 1 1-3.800 16.100L3.500 20.600l1.100-4.500A8.500 8.500 0 0 1 12 3.500z"/><path d="M8.200 12h.1M12 12h.1M15.800 12h.1" stroke-width="2.300"/></svg></div>

<section id="eval" class="abs" style="left:0;top:0;width:847px;height:478px">
<span class="t" style="left:621.80px;top:54.26px;font-size:9.1px;font-weight:700;color:#101828;letter-spacing:-0.230px;">By Manual Evaluation</span>
<div class="card" style="top:79.5px"></div><div class="qb" style="top:89.9px"></div><span class="t" style="left:638.60px;top:92.65px;font-size:7.9px;font-weight:700;color:#5925DC;letter-spacing:0.000px;">Q</span><span class="t" style="left:656.40px;top:91.76px;font-size:9.1px;font-weight:400;color:#101828;letter-spacing:0.110px;-webkit-text-stroke:0.2px #101828;">Did the agent use polite</span><span class="t" style="left:656.40px;top:103.66px;font-size:9.1px;font-weight:400;color:#101828;letter-spacing:0.171px;-webkit-text-stroke:0.2px #101828;">throughout the conversation?</span><svg class="abs" style="left:799.60px;top:91.55px" width="9.8" height="9.8" viewBox="0 0 24 24" fill="none" stroke="#8590a6" stroke-width="1.8" stroke-linecap="round" stroke-linejoin="round" ><circle cx="12" cy="12" r="10"/><path d="M12 11v5.500M12 7.300v.1"/></svg><svg class="abs" style="left:814.15px;top:91.05px" width="10.6" height="10.6" viewBox="0 0 24 24" fill="none" stroke="#D92D20" stroke-width="1.9" stroke-linecap="round" stroke-linejoin="round" ><path d="M4.500 22V3M4.500 3.800c2.500-1.500 5.500-1 8 0s5.500 1 7.500-.3v11c-2 1.300-5 1-7.500 0s-5.500-1.500-8 0"/></svg><div class="card" style="top:134.3px"></div><div class="qb" style="top:144.7px"></div><span class="t" style="left:638.60px;top:147.45px;font-size:7.9px;font-weight:700;color:#5925DC;letter-spacing:0.000px;">Q</span><span class="t" style="left:656.40px;top:146.56px;font-size:9.1px;font-weight:400;color:#101828;letter-spacing:0.158px;-webkit-text-stroke:0.2px #101828;">Did the agent use polite throughout</span><span class="t" style="left:656.40px;top:158.46px;font-size:9.1px;font-weight:400;color:#101828;letter-spacing:0.135px;-webkit-text-stroke:0.2px #101828;">the conversation?</span><svg class="abs" style="left:814.65px;top:146.20px" width="9.8" height="9.8" viewBox="0 0 24 24" fill="none" stroke="#8590a6" stroke-width="1.8" stroke-linecap="round" stroke-linejoin="round" ><circle cx="12" cy="12" r="10"/><path d="M12 11v5.500M12 7.300v.1"/></svg><div class="card" style="top:189.3px"></div><div class="qb" style="top:199.7px"></div><span class="t" style="left:638.60px;top:202.45px;font-size:7.9px;font-weight:700;color:#5925DC;letter-spacing:0.000px;">Q</span><span class="t" style="left:656.40px;top:201.56px;font-size:9.1px;font-weight:400;color:#101828;letter-spacing:0.158px;-webkit-text-stroke:0.2px #101828;">Did the agent use polite throughout</span><span class="t" style="left:656.40px;top:213.46px;font-size:9.1px;font-weight:400;color:#101828;letter-spacing:0.135px;-webkit-text-stroke:0.2px #101828;">the conversation?</span><svg class="abs" style="left:814.65px;top:201.20px" width="9.8" height="9.8" viewBox="0 0 24 24" fill="none" stroke="#8590a6" stroke-width="1.8" stroke-linecap="round" stroke-linejoin="round" ><circle cx="12" cy="12" r="10"/><path d="M12 11v5.500M12 7.300v.1"/></svg>
</section>
</body></html>
